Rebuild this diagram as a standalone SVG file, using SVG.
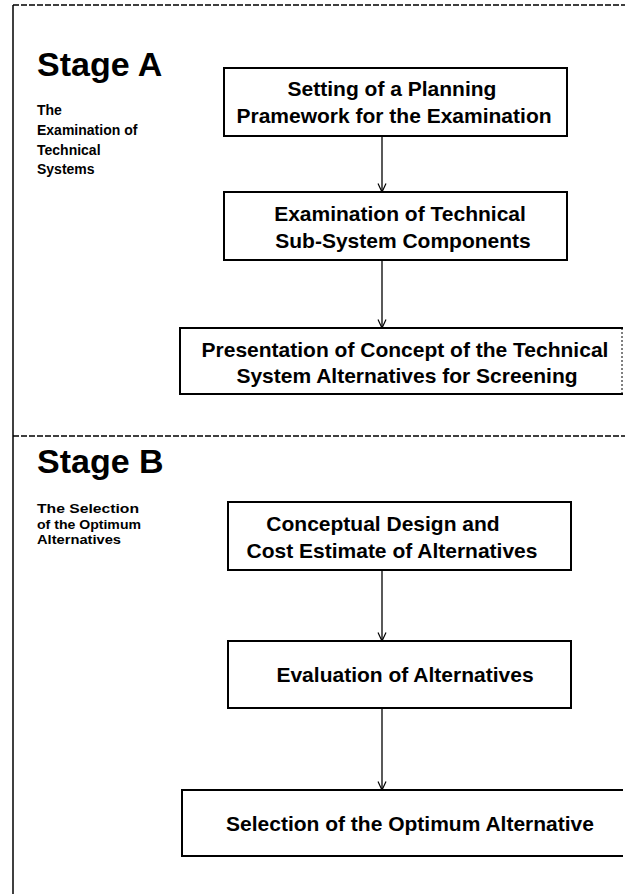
<svg xmlns="http://www.w3.org/2000/svg" width="625" height="894" viewBox="0 0 625 894">
<defs>
<marker id="arr" markerWidth="10" markerHeight="10" refX="9.5" refY="5" orient="auto" markerUnits="userSpaceOnUse" viewBox="0 0 10 10">
<path d="M1,1 L9.5,5 L1,9" fill="none" stroke="#000" stroke-width="1.2"/>
</marker>
<style>
.box{fill:#fff;stroke:#000;stroke-width:2}
.t{font-family:"Liberation Sans",Arial,sans-serif;font-weight:bold;font-size:21px;fill:#000;text-anchor:middle}
.stage{font-family:"Liberation Sans",Arial,sans-serif;font-weight:bold;font-size:34px;fill:#000}
.lab{font-family:"Liberation Sans",Arial,sans-serif;font-weight:bold;font-size:14px;fill:#000}
.dash{stroke:#000;stroke-width:1.5;stroke-dasharray:6 2;fill:none}
.conn{stroke:#000;stroke-width:1.3;fill:none}
</style>
</defs>
<rect width="625" height="894" fill="#fff"/>
<g id="frame">
<line x1="13" y1="5" x2="625" y2="5" class="dash"/>
<line x1="13" y1="436" x2="625" y2="436" class="dash"/>
<line x1="13" y1="5" x2="13" y2="894" stroke="#000" stroke-width="1.5"/>
</g>
<g id="stageA">
<text x="37" y="76" class="stage">Stage A</text>
<text class="lab"><tspan x="37" y="115">The</tspan><tspan x="37" y="135">Examination of</tspan><tspan x="37" y="155">Technical</tspan><tspan x="37" y="174">Systems</tspan></text>
</g>
<g id="stageB">
<text x="37" y="473" class="stage">Stage B</text>
<text class="lab" style="font-size:13px"><tspan x="37" y="513" textLength="102" lengthAdjust="spacingAndGlyphs">The Selection</tspan><tspan x="37" y="528.5" textLength="104" lengthAdjust="spacingAndGlyphs">of the Optimum</tspan><tspan x="37" y="544" textLength="84" lengthAdjust="spacingAndGlyphs">Alternatives</tspan></text>
</g>
<g id="connectors">
<line x1="382" y1="136" x2="382" y2="192" class="conn" marker-end="url(#arr)"/>
<line x1="382" y1="260" x2="382" y2="328" class="conn" marker-end="url(#arr)"/>
<line x1="382" y1="570" x2="382" y2="641" class="conn" marker-end="url(#arr)"/>
<line x1="382" y1="708" x2="382" y2="790" class="conn" marker-end="url(#arr)"/>
</g>
<g id="n1">
<rect x="224" y="68" width="343" height="68" class="box"/>
<text class="t"><tspan x="392" y="96">Setting of a Planning</tspan><tspan x="394" y="123">Pramework for the Examination</tspan></text>
</g>
<g id="n2">
<rect x="224" y="192" width="343" height="68" class="box"/>
<text class="t"><tspan x="400" y="221">Examination of Technical</tspan><tspan x="403" y="248">Sub-System Components</tspan></text>
</g>
<g id="n3">
<path d="M623,328 H180 V394 H623" class="box"/>
<line x1="622" y1="328" x2="622" y2="394" stroke="#000" stroke-width="1" stroke-dasharray="2 2"/>
<text class="t"><tspan x="405" y="357">Presentation of Concept of the Technical</tspan><tspan x="407" y="383">System Alternatives for Screening</tspan></text>
</g>
<g id="n4">
<rect x="228" y="502" width="343" height="68" class="box"/>
<text class="t"><tspan x="383" y="531">Conceptual Design and</tspan><tspan x="392" y="558">Cost Estimate of Alternatives</tspan></text>
</g>
<g id="n5">
<rect x="228" y="641" width="343" height="67" class="box"/>
<text x="405" y="682" class="t">Evaluation of Alternatives</text>
</g>
<g id="n6">
<path d="M623,790 H182 V856 H623" class="box"/>
<text x="410" y="831" class="t">Selection of the Optimum Alternative</text>
</g>
</svg>
